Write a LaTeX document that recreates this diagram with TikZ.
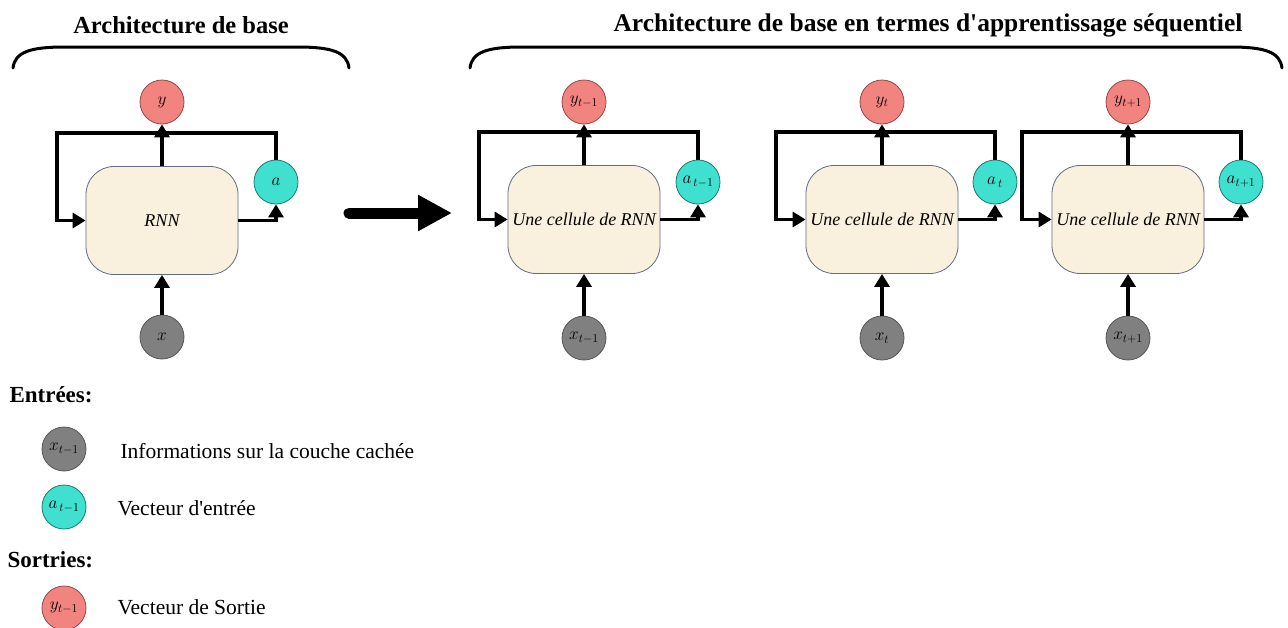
\documentclass[tikz,border=0pt]{standalone}
\usepackage{fontspec}
\setmainfont{Liberation Serif}
\usetikzlibrary{arrows.meta}
\definecolor{ycol}{RGB}{242,132,127}
\definecolor{ybd}{RGB}{150,70,70}
\definecolor{acol}{RGB}{64,224,208}
\definecolor{abd}{RGB}{30,120,110}
\definecolor{xcol}{RGB}{128,128,128}
\definecolor{xbd}{RGB}{85,85,85}
\definecolor{boxfill}{RGB}{250,240,222}
\definecolor{boxbd}{RGB}{95,110,130}
\begin{document}
\begin{tikzpicture}[x=1pt,y=-1pt,
  cellbox/.style={draw=boxbd, fill=boxfill, rounded corners=28pt, minimum width=152pt, minimum height=108pt, line width=0.8pt, inner sep=0pt, font=\itshape\fontsize{18}{21}\selectfont},
  circ/.style={circle, minimum size=44pt, inner sep=0pt, line width=0.8pt, font=\fontsize{17}{19}\selectfont},
  ynode/.style={circ, draw=ybd, fill=ycol},
  anode/.style={circ, draw=abd, fill=acol},
  xnode/.style={circ, draw=xbd, fill=xcol},
  conn/.style={line width=3.5pt, -{Triangle[width=15pt,length=13pt]}},
  brace/.style={line width=3pt, line cap=round},
  title/.style={font=\bfseries\fontsize{24.5}{28}\selectfont},
  titleb/.style={font=\bfseries\fontsize{25.5}{28}\selectfont},
  legtxt/.style={anchor=west, font=\fontsize{21.5}{24}\selectfont},
  leghead/.style={anchor=west, font=\bfseries\fontsize{23}{26}\selectfont}]
\useasboundingbox (0,0) rectangle (1288,627);

% titles and braces
\node[title] (t1) at (181,25) {Architecture de base};
\node[titleb] (t2) at (928,25) {Architecture de base en termes d\textquotesingle apprentissage séquentiel};
\draw[brace] (13,68) .. controls (15,52) and (30,47) .. (65,47) -- (297,47) .. controls (332,47) and (347,52) .. (349,68);
\draw[brace] (470,68) .. controls (472,52) and (487,47) .. (522,47) -- (1230,47) .. controls (1265,47) and (1280,52) .. (1282,68);

% left panel
\node[cellbox] (b0) at (162,220.5) {RNN};
\node[ynode] (y0) at (162,102) {$y$};
\node[anode] (a0) at (276,182) {$a$};
\node[xnode] (x0) at (162,337) {$x$};
\coordinate (l0) at (57,133);
\draw[conn] (b0.north) -- (y0.south);
\draw[conn] (a0.north) |- (l0) |- (b0.west);
\draw[conn] (b0.east) -| (a0.south);
\draw[conn] (x0.north) -- (b0.south);

% big arrow
\coordinate (ba1) at (349,213);
\coordinate (ba2) at (452,213);
\draw[line width=11pt, line cap=round, -{Triangle[width=34pt,length=34pt]}] (ba1) -- (ba2);

% panel 1
\node[cellbox] (b1) at (584,219.5) {Une cellule de RNN};
\node[ynode] (y1) at (584,102) {$y_{t-1}$};
\node[anode] (a1) at (698,182) {$a_{\,t-1}$};
\node[xnode] (x1) at (584,338) {$x_{t-1}$};
\coordinate (l1) at (479,132);
\draw[conn] (b1.north) -- (y1.south);
\draw[conn] (a1.north) |- (l1) |- (b1.west);
\draw[conn] (b1.east) -| (a1.south);
\draw[conn] (x1.north) -- (b1.south);

% panel 2
\node[cellbox] (b2) at (882,219.5) {Une cellule de RNN};
\node[ynode] (y2) at (882,102) {$y_{t}$};
\node[anode] (a2) at (995,182) {$a_{\,t}$};
\node[xnode] (x2) at (882,338) {$x_{t}$};
\coordinate (l2) at (776,132);
\draw[conn] (b2.north) -- (y2.south);
\draw[conn] (a2.north) |- (l2) |- (b2.west);
\draw[conn] (b2.east) -| (a2.south);
\draw[conn] (x2.north) -- (b2.south);

% panel 3
\node[cellbox] (b3) at (1128,219.5) {Une cellule de RNN};
\node[ynode] (y3) at (1128,102) {$y_{t+1}$};
\node[anode] (a3) at (1241,182) {$a_{t+1}$};
\node[xnode] (x3) at (1128,338) {$x_{t+1}$};
\coordinate (l3) at (1022,132);
\draw[conn] (b3.north) -- (y3.south);
\draw[conn] (a3.north) |- (l3) |- (b3.west);
\draw[conn] (b3.east) -| (a3.south);
\draw[conn] (x3.north) -- (b3.south);

% legend
\node[leghead] (h1) at (6,395) {Entrées:};
\node[xnode] (lx) at (64,449) {$x_{t-1}$};
\node[legtxt] (tx) at (117,451) {Informations sur la couche cachée};
\node[anode] (la) at (64,507) {$a_{\,t-1}$};
\node[legtxt] (ta) at (114,508) {Vecteur d\textquotesingle entrée};
\node[leghead] (h2) at (4,560) {Sortries:};
\node[ynode] (ly) at (64,608) {$y_{t-1}$};
\node[legtxt] (ty) at (114,607) {Vecteur de Sortie};
\end{tikzpicture}
\end{document}
